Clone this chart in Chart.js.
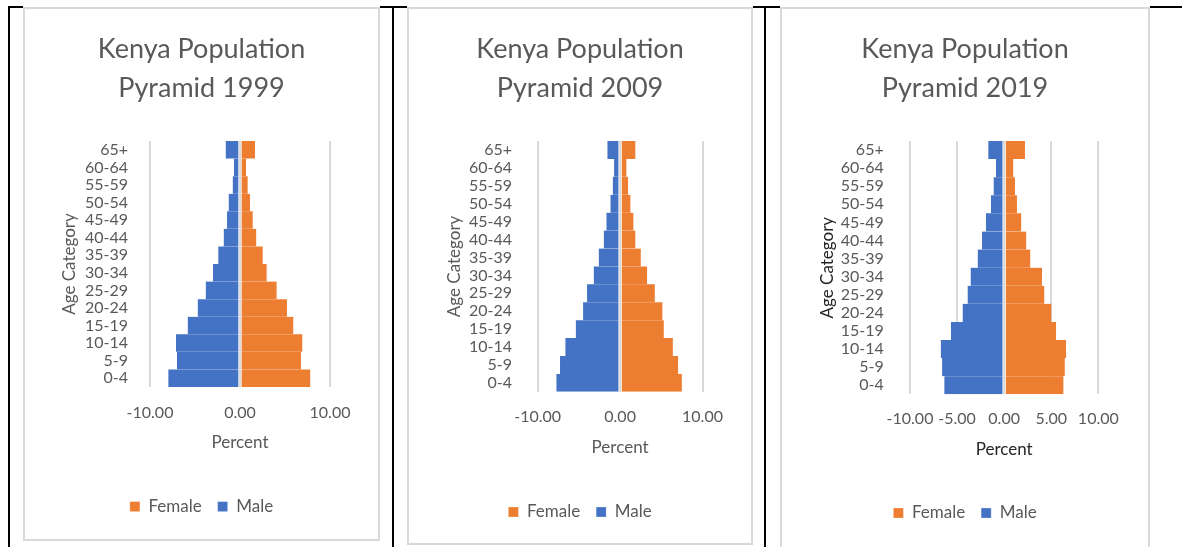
<!DOCTYPE html>
<html>
<head>
<meta charset="utf-8">
<script src="https://cdn.jsdelivr.net/npm/chart.js@4/dist/chart.umd.min.js"></script>
<style>
  html, body { margin: 0; padding: 0; background: #fff; width: 1182px; height: 547px; overflow: hidden; }
  .rule { position: absolute; background: #000; }
  .sheet { position: absolute; background: #fff; }
  .frame { position: absolute; box-sizing: border-box; border: 2px solid #d9d9d9; background: #fff; }
  canvas { position: absolute; }
</style>
</head>
<body>
<!-- table rules -->
<div class="rule" style="left:8px;top:6px;width:1174px;height:2px"></div>
<div class="rule" style="left:8px;top:6px;width:2px;height:541px"></div>
<div class="rule" style="left:392px;top:6px;width:2px;height:541px"></div>
<div class="rule" style="left:764px;top:6px;width:2px;height:541px"></div>

<!-- chart panels -->
<div class="sheet" style="left:23px;top:5px;width:357px;height:536px"></div>
<div class="frame" style="left:23px;top:7px;width:357px;height:534px"></div>
<canvas id="pyr1999" width="357" height="534" style="left:23px;top:7px"></canvas>

<div class="sheet" style="left:407px;top:5px;width:346px;height:540px"></div>
<div class="frame" style="left:407px;top:7px;width:346px;height:538px"></div>
<canvas id="pyr2009" width="346" height="538" style="left:407px;top:7px"></canvas>

<div class="sheet" style="left:780px;top:5px;width:370px;height:542px"></div>
<div class="frame" style="left:780px;top:7px;width:370px;height:542px"></div>
<canvas id="pyr2019" width="370" height="540" style="left:780px;top:7px"></canvas>

<script>
// Age groups, youngest first (drawn bottom-up)
const ageGroups = ['0-4', '5-9', '10-14', '15-19', '20-24', '25-29', '30-34',
                   '35-39', '40-44', '45-49', '50-54', '55-59', '60-64', '65+'];

// Share of total population (%) per age group
const female1999 = [7.81, 6.78, 6.93, 5.93, 5.22, 4.07, 2.96, 2.52, 1.81, 1.41, 1.11, 0.85, 0.67, 1.67];
const male1999   = [7.96, 7.00, 7.11, 5.81, 4.70, 3.81, 3.00, 2.41, 1.81, 1.44, 1.26, 0.81, 0.67, 1.59];

const female2009 = [7.49, 7.04, 6.40, 5.30, 5.14, 4.21, 3.28, 2.51, 1.86, 1.62, 1.26, 0.97, 0.77, 1.86];
const male2009   = [7.73, 7.29, 6.64, 5.38, 4.49, 4.01, 3.20, 2.59, 1.98, 1.66, 1.17, 0.89, 0.73, 1.54];

const female2019 = [6.30, 6.44, 6.58, 5.52, 5.02, 4.27, 4.02, 2.78, 2.35, 1.82, 1.36, 1.15, 0.97, 2.21];
const male2019   = [6.35, 6.59, 6.73, 5.65, 4.41, 3.88, 3.56, 2.81, 2.35, 1.93, 1.40, 1.12, 0.87, 1.68];

const titleLines = ['Kenya Population', 'Pyramid '];
const seriesNames = ['Female', 'Male'];
const axisTitles = { x: 'Percent', y: 'Age Category' };

const FEMALE = '#ED7D31';
const MALE = '#4472C4';
const GRID = '#d9d9d9';
const TEXT = '#595959';
const FONT = 'Lato';

// Vertical axis line at 0, drawn over the bars
const zeroAxisLine = {
  id: 'zeroAxisLine',
  afterDatasetsDraw(chart) {
    const { ctx, chartArea: a, scales: { x } } = chart;
    const px = Math.round(x.getPixelForValue(0)) + 0.5;
    ctx.save();
    ctx.strokeStyle = GRID;
    ctx.lineWidth = 1;
    ctx.beginPath();
    ctx.moveTo(px, a.top);
    ctx.lineTo(px, a.bottom);
    ctx.stroke();
    ctx.restore();
  }
};

function pyramid(id, year, female, male, box) {
  return new Chart(document.getElementById(id), {
    type: 'bar',
    data: {
      labels: ageGroups,
      datasets: [
        {
          label: seriesNames[0], data: female, backgroundColor: FEMALE,
          borderColor: '#ffffff', borderWidth: { left: 1, right: 0, top: 0, bottom: 0 }, borderSkipped: false
        },
        {
          label: seriesNames[1], data: male.map(v => -v), backgroundColor: MALE,
          borderColor: '#ffffff', borderWidth: { left: 0, right: 1, top: 0, bottom: 0 }, borderSkipped: false
        }
      ]
    },
    plugins: [zeroAxisLine],
    options: {
      indexAxis: 'y',
      responsive: false,
      animation: false,
      devicePixelRatio: 1,
      layout: { padding: { left: 0, right: 0, top: 0, bottom: box.padBottom } },
      datasets: { bar: { barPercentage: 1, categoryPercentage: 1 } },
      plugins: {
        title: {
          display: true,
          text: [titleLines[0], titleLines[1] + year],
          color: TEXT,
          font: { family: FONT, size: 27, weight: 'normal', lineHeight: 1.426 },
          padding: { top: 23.45, bottom: 33.55 }
        },
        legend: {
          position: 'bottom',
          labels: {
            color: TEXT, boxWidth: 10, boxHeight: 10, padding: 16,
            font: { family: FONT, size: 17 }
          }
        },
        tooltip: { enabled: false }
      },
      scales: {
        x: {
          type: 'linear', stacked: true, min: -10, max: 10,
          afterFit: s => { s.height = box.xHeight; },
          ticks: {
            stepSize: box.step, autoSkip: false, maxRotation: 0, minRotation: 0,
            padding: box.xTickPad, color: TEXT, font: { family: FONT, size: 16 },
            callback: v => Number(v).toFixed(2)
          },
          grid: { drawTicks: false, color: GRID, lineWidth: 2 },
          border: { display: false },
          title: {
            display: true, text: axisTitles.x, color: box.axisTitleColor,
            font: { family: FONT, size: 17 }, padding: { top: 0, bottom: box.xTitlePad }
          }
        },
        y: {
          type: 'category', stacked: true, reverse: true,
          afterFit: s => { s.width = box.yWidth; },
          ticks: { autoSkip: false, padding: box.yTickPad, color: TEXT, font: { family: FONT, size: 16 } },
          grid: { display: false },
          border: { display: false },
          title: {
            display: true, text: axisTitles.y, color: box.axisTitleColor,
            font: { family: FONT, size: 17 }, padding: { top: box.yTitlePad, bottom: 0 }
          }
        },
        yRight: {
          type: 'category', position: 'right',
          afterFit: s => { s.width = box.rightWidth; },
          ticks: { display: false },
          grid: { display: false },
          border: { display: false }
        }
      }
    }
  });
}

pyramid('pyr1999', 1999, female1999, male1999, {
  step: 10, yWidth: 127, rightWidth: 50, padBottom: 15.9, xHeight: 95.1,
  xTickPad: 16.2, xTitlePad: 28.9, yTickPad: 14, yTitlePad: 36.8, axisTitleColor: TEXT
});
pyramid('pyr2009', 2009, female2009, male2009, {
  step: 10, yWidth: 130.7, rightWidth: 50.5, padBottom: 14.5, xHeight: 95.7,
  xTickPad: 15.6, xTitlePad: 29.3, yTickPad: 17.7, yTitlePad: 37.8, axisTitleColor: TEXT
});
pyramid('pyr2019', 2019, female2019, male2019, {
  step: 5, yWidth: 130, rightWidth: 51.7, padBottom: 15.5, xHeight: 94.2,
  xTickPad: 14.8, xTitlePad: 28.9, yTickPad: 18.3, yTitlePad: 37.1, axisTitleColor: '#262626'
});
</script>
</body>
</html>
